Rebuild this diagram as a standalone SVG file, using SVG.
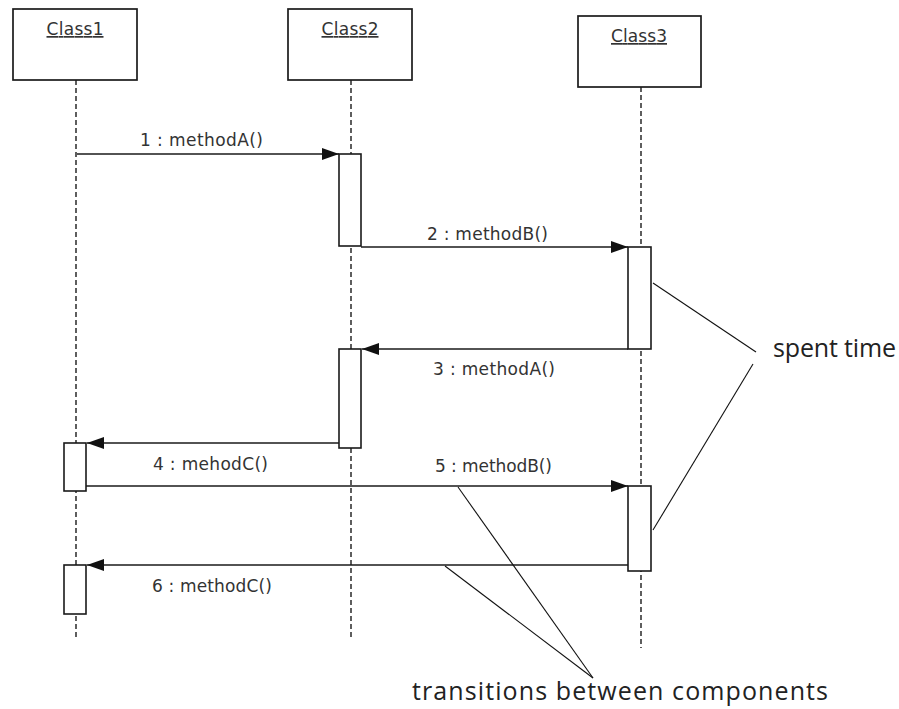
<svg xmlns="http://www.w3.org/2000/svg" width="899" height="709" viewBox="0 0 899 709">
<style>
.box{fill:#fff;stroke:#1a1a1a;stroke-width:1.7}
.act{fill:#fff;stroke:#1a1a1a;stroke-width:1.6}
.life{stroke:#1a1a1a;stroke-width:1.4;stroke-dasharray:5 3;fill:none}
.msg{stroke:#1a1a1a;stroke-width:1.6;fill:none}
.note{stroke:#111;stroke-width:1.1;fill:none}
.cls{font-family:"DejaVu Sans",sans-serif;font-size:17px;fill:#333;text-decoration:underline}
.lbl{font-family:"DejaVu Sans",sans-serif;font-size:17px;fill:#333}
.big{font-family:"Open Sans","DejaVu Sans",sans-serif;font-size:25px;fill:#222}
</style>
<defs>
<marker id="ah" markerWidth="17" markerHeight="12" refX="17" refY="6" orient="auto" markerUnits="userSpaceOnUse">
<path d="M0,0 L17,6 L0,12 Z" fill="#111"/>
</marker>
</defs>
<rect width="899" height="709" fill="#fff"/>
<g id="lifelines">
<line class="life" x1="76" y1="80" x2="76" y2="638"/>
<line class="life" x1="351" y1="80" x2="351" y2="640"/>
<line class="life" x1="641" y1="87" x2="641" y2="648"/>
</g>
<g id="Class1">
<rect class="box" x="13" y="9" width="124" height="71"/>
<text class="cls" x="75" y="35" text-anchor="middle" textLength="57">Class1</text>
</g>
<g id="Class2">
<rect class="box" x="288" y="9" width="124" height="71"/>
<text class="cls" x="350" y="35" text-anchor="middle" textLength="57">Class2</text>
</g>
<g id="Class3">
<rect class="box" x="578" y="16" width="123" height="71"/>
<text class="cls" x="639" y="42" text-anchor="middle" textLength="56">Class3</text>
</g>
<g id="activations">
<rect id="act2a" class="act" x="339" y="154" width="22" height="92"/>
<rect id="act3a" class="act" x="628" y="247" width="23" height="102"/>
<rect id="act2b" class="act" x="339" y="349" width="22" height="99"/>
<rect id="act1a" class="act" x="64" y="443" width="22" height="48"/>
<rect id="act3b" class="act" x="628" y="486" width="23" height="85"/>
<rect id="act1b" class="act" x="64" y="565" width="22" height="49"/>
</g>
<g id="connectors">
<line class="msg" x1="77" y1="154" x2="339" y2="154" marker-end="url(#ah)"/>
<line class="msg" x1="361" y1="247" x2="628" y2="247" marker-end="url(#ah)"/>
<line class="msg" x1="628" y1="349" x2="362" y2="349" marker-end="url(#ah)"/>
<line class="msg" x1="339" y1="443" x2="87" y2="443" marker-end="url(#ah)"/>
<line class="msg" x1="86" y1="486" x2="628" y2="486" marker-end="url(#ah)"/>
<line class="msg" x1="628" y1="565" x2="87" y2="565" marker-end="url(#ah)"/>
<line class="note" x1="653" y1="283" x2="756" y2="352"/>
<line class="note" x1="753" y1="364" x2="653" y2="530"/>
<line class="note" x1="458" y1="487" x2="593" y2="678"/>
<line class="note" x1="445" y1="566" x2="593" y2="678"/>
</g>
<g id="labels">
<text class="lbl" x="140" y="146" textLength="123">1 : methodA()</text>
<text class="lbl" x="427" y="240" textLength="121">2 : methodB()</text>
<text class="lbl" x="433" y="375" textLength="122">3 : methodA()</text>
<text class="lbl" x="153" y="470" textLength="115">4 : mehodC()</text>
<text class="lbl" x="435" y="472" textLength="117">5 : methodB()</text>
<text class="lbl" x="152" y="592" textLength="120">6 : methodC()</text>
</g>
<g id="notes">
<text class="big" x="773" y="357" textLength="123">spent time</text>
<text class="big" x="412" y="700" textLength="416">transitions between components</text>
</g>
</svg>
